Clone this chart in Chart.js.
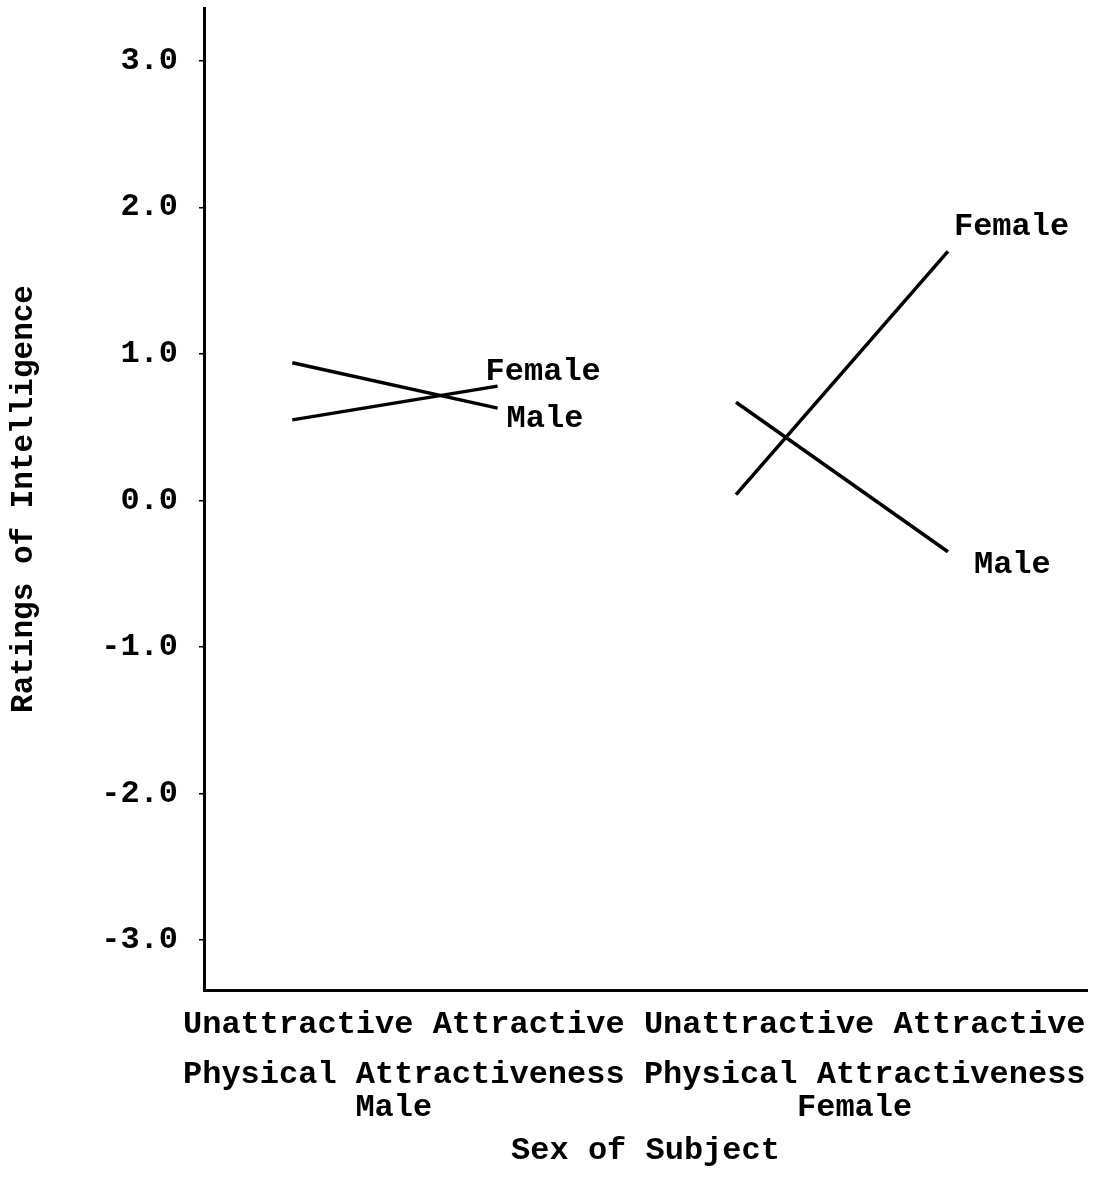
<!DOCTYPE html>
<html>
<head>
<meta charset="utf-8">
<title>Ratings of Intelligence</title>
<script src="https://cdn.jsdelivr.net/npm/chart.js@4/dist/chart.umd.min.js"></script>
<style>
  body { margin: 0; background: #fff; }
  #wrap { width: 1101px; height: 1186px; }
</style>
</head>
<body>
<div id="wrap"><canvas id="ratingsChart"></canvas></div>
<script>
// Data
const attractiveness = ['Unattractive', 'Attractive'];
const subjectSex = ['Male', 'Female'];
const xSlots = [0.4, 1.33, 2.41, 3.37];   // where each condition sits on the x scale

// male subjects
const maleSubjFemaleTarget = [0.55, 0.78];
const maleSubjMaleTarget = [0.94, 0.63];
// female subjects
const femaleSubjFemaleTarget = [0.04, 1.70];
const femaleSubjMaleTarget = [0.67, -0.35];

const yTickValues = [-3, -2, -1, 0, 1, 2, 3];

const FONT = "'Liberation Mono', 'Courier New', monospace";
const WEIGHT = 'bold';

// where to put the end-of-line labels, relative to the last point
const labelOffsets = [
  { dx: -12, dy: -6 },
  { dx: 9, dy: 19 },
  { dx: 6, dy: -16 },
  { dx: 26, dy: 21 }
];

function toPoints(values, group) {
  return values.map((v, i) => ({ x: xSlots[group * 2 + i], y: v }));
}

function makeLine(label, values, group) {
  return {
    label: label,
    data: toPoints(values, group),
    borderColor: '#000',
    borderWidth: 3.5,
    pointRadius: 0,
    tension: 0,
    fill: false
  };
}

// labels at the end of each line
const endLabels = {
  id: 'endLabels',
  afterDatasetsDraw(chart) {
    const ctx = chart.ctx;
    ctx.save();
    ctx.font = WEIGHT + ' 32px ' + FONT;
    ctx.fillStyle = '#000';
    ctx.textAlign = 'left';
    ctx.textBaseline = 'alphabetic';
    chart.data.datasets.forEach((ds, i) => {
      const pts = chart.getDatasetMeta(i).data;
      const last = pts[pts.length - 1];
      const off = labelOffsets[i];
      ctx.fillText(ds.label, last.x + off.dx, last.y + off.dy);
    });
    ctx.restore();
  }
};

// the category text under the x axis
const xLabels = {
  id: 'xLabels',
  afterDraw(chart) {
    const ctx = chart.ctx;
    const left = 183;
    const charW = 19.2;
    ctx.save();
    ctx.font = WEIGHT + ' 32px ' + FONT;
    ctx.fillStyle = '#000';
    ctx.textAlign = 'left';
    ctx.textBaseline = 'alphabetic';
    const row1 = subjectSex.map(() => attractiveness.join(' ')).join(' ');
    const row2 = subjectSex.map(() => 'Physical Attractiveness').join(' ');
    ctx.fillText(row1, left, 1033);
    ctx.fillText(row2, left, 1083);
    ctx.textAlign = 'center';
    const groupW = 23 * charW;
    subjectSex.forEach((s, g) => {
      const cx = left + g * (groupW + charW) + groupW / 2 - 10;
      ctx.fillText(s, cx, 1116);
    });
    ctx.restore();
  }
};

new Chart(document.getElementById('ratingsChart'), {
  type: 'line',
  data: {
    datasets: [
      makeLine('Female', maleSubjFemaleTarget, 0),
      makeLine('Male', maleSubjMaleTarget, 0),
      makeLine('Female', femaleSubjFemaleTarget, 1),
      makeLine('Male', femaleSubjMaleTarget, 1)
    ]
  },
  options: {
    responsive: true,
    maintainAspectRatio: false,
    animation: false,
    layout: { padding: { top: 8, right: 14, left: 0, bottom: 0 } },
    plugins: {
      legend: { display: false },
      tooltip: { enabled: false }
    },
    scales: {
      x: {
        type: 'linear',
        min: 0,
        max: 4,
        grid: { display: false },
        border: { display: true, color: '#000', width: 3 },
        ticks: { display: false },
        title: {
          display: true,
          text: 'Sex of Subject',
          color: '#000',
          font: { family: FONT, size: 32, weight: WEIGHT },
          padding: { bottom: 16 }
        },
        afterFit(scale) {
          scale.height = 196;
          scale.paddingLeft = 0;
          scale.paddingRight = 0;
        }
      },
      y: {
        min: -3.34,
        max: 3.36,
        afterBuildTicks(scale) {
          scale.ticks = yTickValues.map(v => ({ value: v }));
        },
        grid: {
          drawOnChartArea: false,
          drawTicks: true,
          tickLength: 5,
          color: '#000',
          lineWidth: 1.5
        },
        border: { display: true, color: '#000', width: 3 },
        ticks: {
          color: '#000',
          padding: 21,
          font: { family: FONT, size: 32, weight: WEIGHT },
          callback: v => v.toFixed(1)
        },
        title: {
          display: true,
          text: 'Ratings of Intelligence',
          color: '#000',
          font: { family: FONT, size: 31, weight: WEIGHT },
          padding: { top: 6 }
        },
        afterFit(scale) {
          scale.width = 204;
          scale.paddingTop = 0;
          scale.paddingBottom = 0;
        }
      }
    }
  },
  plugins: [endLabels, xLabels]
});
</script>
</body>
</html>
